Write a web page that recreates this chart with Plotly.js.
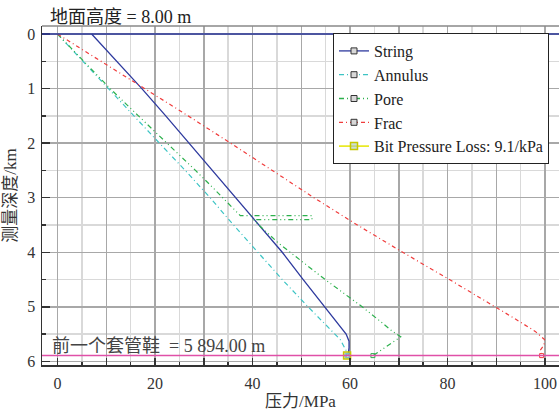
<!DOCTYPE html>
<html>
<head>
<meta charset="utf-8">
<script src="https://cdn.plot.ly/plotly-3.0.1.min.js"></script>
<style>html,body{margin:0;padding:0;background:#fff;}#chart{width:559px;height:412px;}</style>
</head>
<body>
<div id="chart"></div>
<script>
// ---- data (pressure in MPa, measured depth in km) ----
const depthString = [0, 0.5, 1.0, 1.5, 2.0, 2.5, 3.0, 3.5, 4.0, 4.5, 5.0, 5.3, 5.5, 5.63, 5.75, 5.894];
const pressString = [7.0, 12.2, 17.3, 22.2, 27.0, 31.8, 36.6, 41.4, 46.1, 50.4, 54.8, 57.6, 59.2, 59.8, 59.8, 59.6];

const depthAnnulus = [0, 0.5, 1.0, 1.5, 2.0, 2.5, 3.0, 3.5, 4.0, 4.5, 5.0, 5.3, 5.6, 5.8, 5.894];
const pressAnnulus = [0, 5.2, 10.3, 15.6, 20.9, 26.2, 31.3, 36.1, 41.0, 46.1, 51.4, 54.8, 58.0, 59.2, 59.4];

const depthPore = [0, 0.5, 1.0, 1.5, 2.0, 2.5, 2.8, 3.0, 3.2, 3.33, 3.33, 3.4, 3.4, 3.55, 3.83, 4.1, 4.5, 4.75, 5.0, 5.25, 5.42, 5.55, 5.7, 5.894];
const pressPore = [0, 5.4, 10.8, 16.6, 22.5, 28.3, 31.7, 33.9, 35.9, 37.5, 52.2, 52.2, 40.2, 41.9, 45.3, 49.1, 54.9, 58.7, 62.5, 66.0, 68.3, 70.4, 67.9, 64.7];

const depthFrac = [0, 0.5, 1.0, 1.5, 2.0, 2.5, 3.0, 3.5, 4.0, 4.5, 4.9, 5.2, 5.45, 5.6, 5.7, 5.8, 5.894];
const pressFrac = [0, 9.0, 17.9, 26.8, 35.5, 44.0, 52.6, 61.5, 70.8, 80.4, 88.0, 93.5, 98.0, 99.9, 99.8, 99.0, 99.3];

const depthBit = [5.894];
const pressBit = [59.4];

const groundDepth = 0;          // km
const casingShoeDepth = 5.894;  // km

const seriesNames = ["String", "Annulus", "Pore", "Frac", "Bit Pressure Loss: 9.1/kPa"];
const titleText = "地面高度 = 8.00 m";
const shoeText = "前一个套管鞋  = 5 894.00 m";
const xTitle = "压力/MPa";
const yTitle = "测量深度/km";
const xTickVals = [0, 10, 20, 30, 40, 50, 60, 70, 80, 90, 100];
const xTickText = ["0", "", "20", "", "40", "", "60", "", "80", "", "100"];
const yTickVals = [0, 1, 2, 3, 4, 5, 6];
const yTickText = ["0", "1", "2", "3", "4", "5", "6"];

// ---- styles ----
const FONT = "Liberation Serif, Noto Sans CJK SC, serif";
const colors = ["#2e3a9e", "#3cc4c4", "#2cb04c", "#f03c3c", "#e6e600"];
const dashes = ["solid", "5px,3px,1px,3px", "5px,3px,1px,3px,1px,3px", "4px,3px,1px,3px", "solid"];
const legendMarker = {symbol: "square", size: 6, color: "#d8d8d8", line: {color: "#333", width: 1}};

const lineSets = [
  [pressString, depthString],
  [pressAnnulus, depthAnnulus],
  [pressPore, depthPore],
  [pressFrac, depthFrac]
];

const traces = [];
// curves
lineSets.forEach((s, i) => {
  traces.push({
    x: s[0], y: s[1], type: "scatter", mode: "lines",
    line: {color: colors[i], width: i === 0 ? 1.3 : 1.2, dash: dashes[i]},
    showlegend: false, hoverinfo: "skip"
  });
});
// small coloured end marks at the bottom of each curve
lineSets.forEach((s, i) => {
  const n = s[0].length - 1;
  traces.push({
    x: [s[0][n]], y: [s[1][n]], type: "scatter", mode: "markers",
    showlegend: false, hoverinfo: "skip",
    marker: {symbol: "square-open", size: 4, color: colors[i], line: {width: 1}}
  });
});
// legend entries
lineSets.forEach((s, i) => {
  traces.push({
    x: [null], y: [null], type: "scatter", mode: "lines+markers",
    name: seriesNames[i],
    line: {color: colors[i], width: 1.3, dash: dashes[i]},
    marker: legendMarker
  });
});
// bit pressure loss marker
traces.push({
  x: pressBit, y: depthBit, type: "scatter", mode: "lines+markers",
  name: seriesNames[4],
  line: {color: colors[4], width: 1.5},
  marker: {symbol: "square", size: 7, color: "rgba(170,200,190,0.6)", line: {color: "#c8c800", width: 1.5}}
});

const layout = {
  width: 559, height: 412,
  margin: {l: 42, r: 0, t: 26, b: 47},
  paper_bgcolor: "#fff", plot_bgcolor: "#fff",
  font: {family: FONT, size: 15, color: "#333"},
  title: {
    text: titleText, xref: "container", yref: "container",
    x: 50 / 559, xanchor: "left", y: 1 - 17 / 412, yanchor: "middle",
    font: {family: FONT, size: 18, color: "#222"}
  },
  xaxis: {
    range: [-3.18, 102.87],
    tickmode: "array", tickvals: xTickVals, ticktext: xTickText,
    ticks: "inside", ticklen: 7, tickwidth: 1.5, tickcolor: "#333",
    showline: true, linecolor: "#333", linewidth: 1.5,
    showgrid: true, gridcolor: "#a8a8a8", gridwidth: 1.5, zeroline: false,
    minor: {dtick: 5, tick0: 0, ticks: "inside", ticklen: 3, tickcolor: "#333", showgrid: true, gridcolor: "#d9d9d9", gridwidth: 1.5},
    tickfont: {family: FONT, size: 16, color: "#333"},
    ticklabelstandoff: 3,
    title: {text: xTitle, font: {family: FONT, size: 17, color: "#333"}, standoff: 4}
  },
  yaxis: {
    range: [6.066, -0.147],
    tickmode: "array", tickvals: yTickVals, ticktext: yTickText,
    ticks: "inside", ticklen: 8, tickwidth: 1.5, tickcolor: "#333",
    showline: true, linecolor: "#333", linewidth: 1.5,
    showgrid: true, gridcolor: "#a8a8a8", gridwidth: 1.5, zeroline: false,
    minor: {dtick: 0.5, tick0: 0, ticks: "inside", ticklen: 4, tickcolor: "#333", showgrid: true, gridcolor: "#d9d9d9", gridwidth: 1.5},
    tickfont: {family: FONT, size: 16, color: "#333"},
    ticklabelstandoff: 2,
    title: {text: yTitle, font: {family: FONT, size: 17, color: "#333"}, standoff: 6}
  },
  legend: {
    x: (333 - 42) / 517, y: 1 - (33 - 26) / 339, xanchor: "left", yanchor: "top",
    bgcolor: "#fff", bordercolor: "#222", borderwidth: 1,
    font: {family: FONT, size: 16, color: "#222"},
    tracegroupgap: 0
  },
  shapes: [
    {type: "line", xref: "paper", x0: 0, x1: 1, yref: "paper", y0: 1, y1: 1, line: {color: "#888", width: 1.5}},
    {type: "line", xref: "paper", x0: 0, x1: 1, yref: "y", y0: groundDepth, y1: groundDepth, line: {color: "#2e3a9e", width: 1.5}},
    {type: "line", xref: "paper", x0: 0, x1: 1, yref: "y", y0: casingShoeDepth, y1: casingShoeDepth, line: {color: "#e050a8", width: 1.5}}
  ],
  annotations: [
    {text: shoeText, xref: "paper", x: 8 / 517, xanchor: "left", yref: "y", y: casingShoeDepth, yanchor: "bottom",
     showarrow: false, font: {family: FONT, size: 18, color: "#444"}, yshift: -2}
  ]
};

Plotly.newPlot("chart", traces, layout, {staticPlot: true, displayModeBar: false});
</script>
</body>
</html>
